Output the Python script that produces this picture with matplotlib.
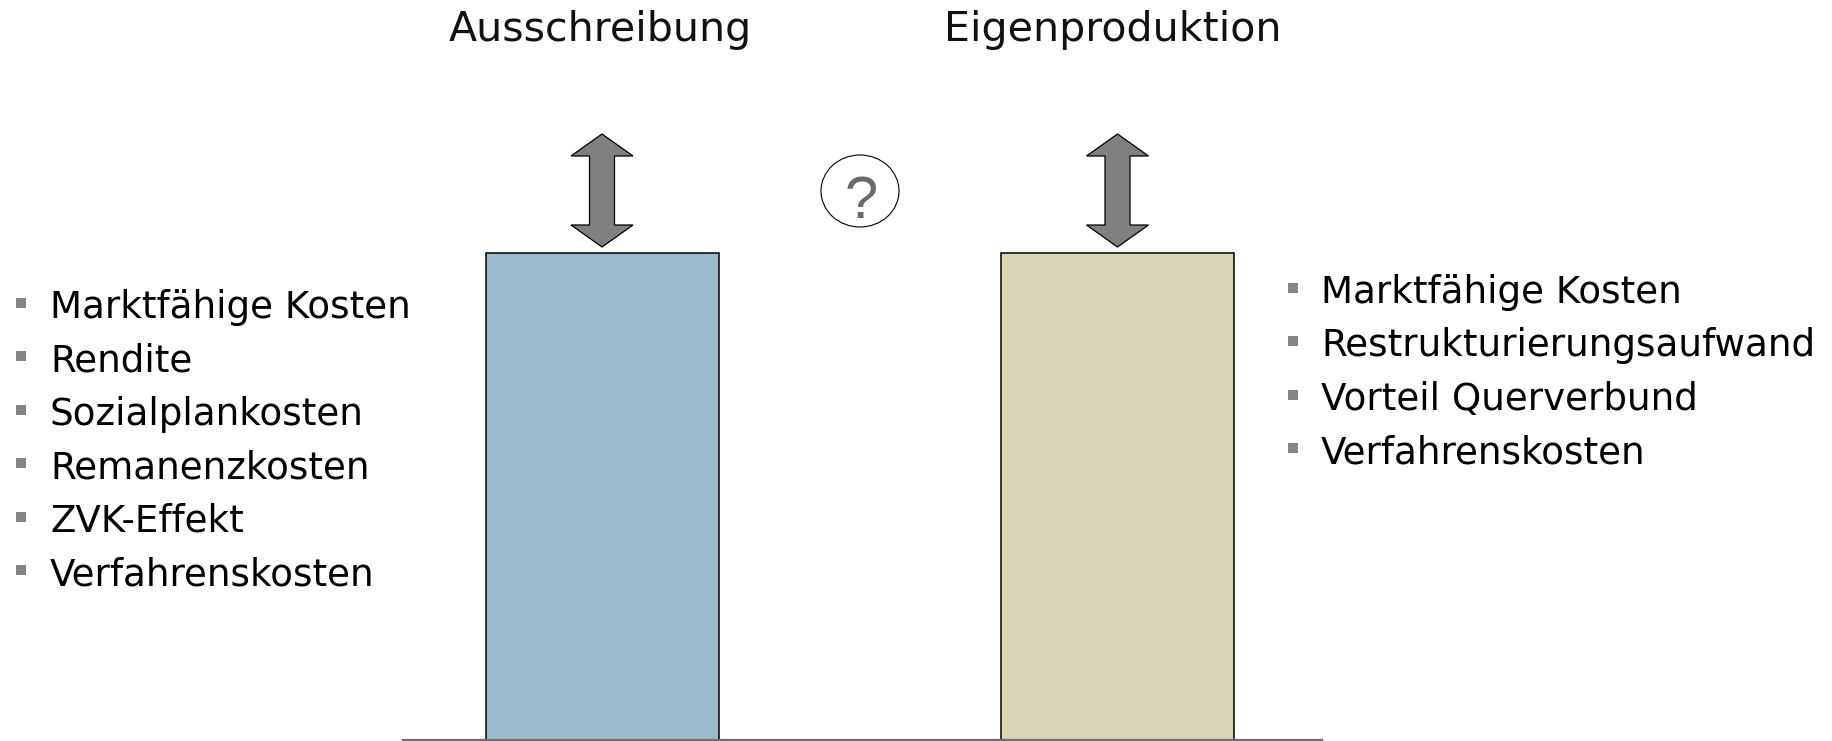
#!/usr/bin/env python3
"""
Ausschreibung vs. Eigenproduktion - cost comparison sketch
"""

import matplotlib
matplotlib.use("Agg")
import matplotlib.pyplot as plt
from matplotlib.patches import Polygon, Ellipse

# data
options = ["Ausschreibung", "Eigenproduktion"]
levels = [1.0, 1.0]          # both bars drawn at the same (open) level
bar_colors = ["#9bbbcc", "#dad5b7"]
left_items = ["Marktfähige Kosten", "Rendite", "Sozialplankosten",
              "Remanenzkosten", "ZVK-Effekt", "Verfahrenskosten"]
right_items = ["Marktfähige Kosten", "Restrukturierungsaufwand",
               "Vorteil Querverbund", "Verfahrenskosten"]

W, H = 1832, 741
FS = 26.8
TITLE_FS = 29.6


def double_arrow(ax, xc, top, bottom):
    """vertical block double arrow in pixel coords"""
    hw, sw, hh = 31, 12.5, 22
    pts = [(xc, top), (xc + hw, top + hh), (xc + sw, top + hh),
           (xc + sw, bottom - hh), (xc + hw, bottom - hh), (xc, bottom),
           (xc - hw, bottom - hh), (xc - sw, bottom - hh),
           (xc - sw, top + hh), (xc - hw, top + hh)]
    ax.add_patch(Polygon(pts, closed=True, facecolor="#808080",
                         edgecolor="black", lw=0.9, zorder=3))


def main():
    fig = plt.figure(figsize=(W / 100, H / 100), dpi=100)

    # bar axes
    x0, x1 = 403, 1322
    centers = (602, 1117.5)
    step = centers[1] - centers[0]
    ax_h = 640
    ax = fig.add_axes([x0 / W, 1 / H, (x1 - x0) / W, ax_h / H])
    xs = list(range(len(options)))
    ax.bar(xs, levels, width=233 / step, color=bar_colors,
           edgecolor="black", linewidth=1.1, zorder=2)
    ax.set_xlim(-(centers[0] - x0) / step, (x1 - centers[0]) / step)
    ax.set_ylim(0, ax_h / 487)
    for s in ("top", "left", "right"):
        ax.spines[s].set_visible(False)
    ax.spines["bottom"].set_color("#6e6e6e")
    ax.spines["bottom"].set_linewidth(1.6)
    ax.set_xticks([])
    ax.set_yticks([])
    ax.patch.set_alpha(0)

    # overlay in pixel coords
    deco = fig.add_axes([0, 0, 1, 1])
    deco.set_xlim(0, W)
    deco.set_ylim(H, 0)
    deco.axis("off")
    deco.patch.set_alpha(0)

    title_x = (600, 1113)
    for tx, name in zip(title_x, options):
        deco.text(tx, 41, name, ha="center", va="baseline",
                  fontsize=TITLE_FS, color="#111111")

    for xc in centers:
        double_arrow(deco, xc, 134, 247)

    deco.add_patch(Ellipse((860, 191), 78, 72, facecolor="white",
                           edgecolor="black", lw=0.8, zorder=3))
    deco.text(861, 218, "?", ha="center", va="baseline", fontsize=43,
              family="Liberation Sans", color="#6a6a6a", zorder=4)

    # bullet lists
    gap = 53.4
    for i, item in enumerate(left_items):
        yb = 318 + i * gap
        deco.plot(21, yb - 15, "s", ms=7.4, color="#858585", mew=0)
        deco.text(50, yb, item, ha="left", va="baseline", fontsize=FS)
    for i, item in enumerate(right_items):
        yb = 303 + i * gap
        deco.plot(1293, yb - 15, "s", ms=7.4, color="#858585", mew=0)
        deco.text(1321, yb, item, ha="left", va="baseline", fontsize=FS)

    fig.savefig("out.png", dpi=100)


if __name__ == "__main__":
    main()
